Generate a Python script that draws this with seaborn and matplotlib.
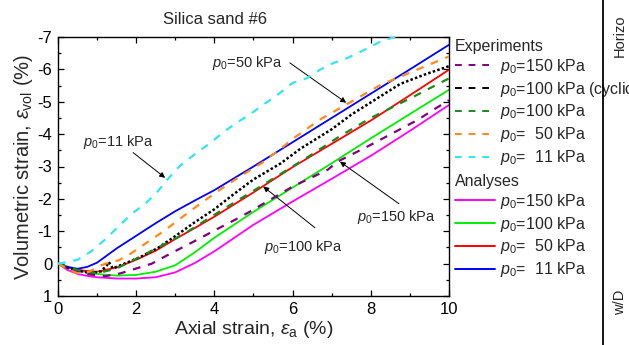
import numpy as np
import pandas as pd
import matplotlib
matplotlib.use("Agg")
import matplotlib.pyplot as plt
import seaborn as sns
from matplotlib.ticker import MultipleLocator
from matplotlib.lines import Line2D

# ---------------- data (axial strain %, volumetric strain %) ----------------
exp150_x = [0, 0.4, 0.8, 1.2, 1.6, 2.0, 2.4, 2.75, 3.1, 3.5, 4.2, 4.6, 4.9, 5.35, 6.0, 6.9, 7.15, 8.0, 9.2, 9.6, 10]
exp150_y = [0, 0.2, 0.33, 0.39, 0.3, 0.15, 0.0, -0.23, -0.45, -0.7, -1.15, -1.4, -1.6, -1.92, -2.38, -2.9, -3.15, -3.67, -4.44, -4.75, -5.05]

expcyc_x = [0, 0.25, 0.5, 0.85, 1.1, 1.25, 1.3, 1.4, 1.7, 2.1, 2.55, 3.0, 3.5, 4.0, 4.5, 5.0, 5.7, 6.2, 7.0, 7.5, 8.0, 8.75, 9.4, 10]
expcyc_y = [0, 0.13, 0.22, 0.29, 0.24, 0.05, -0.05, 0.15, 0.0, -0.2, -0.48, -0.85, -1.28, -1.68, -2.15, -2.6, -3.1, -3.55, -4.15, -4.6, -4.98, -5.55, -5.85, -6.1]

exp100_x = [0, 0.5, 1.0, 1.5, 2.0, 2.4, 3.2, 4.2, 5.0, 5.6, 6.0, 6.4, 7.2, 8.0, 8.7, 9.1, 9.85, 10]
exp100_y = [0, 0.2, 0.3, 0.15, -0.15, -0.4, -0.9, -1.66, -2.25, -2.7, -3.0, -3.3, -3.93, -4.5, -4.92, -5.16, -5.63, -5.72]

exp50_x = [0, 0.3, 0.5, 0.8, 1.1, 1.35, 1.55, 1.85, 2.2, 2.7, 3.4, 4.1, 4.6, 5.2, 5.7, 6.0, 6.7, 7.5, 8.25, 9.0, 9.4, 10]
exp50_y = [0, 0.2, 0.3, 0.25, 0.05, -0.05, -0.1, -0.3, -0.59, -1.0, -1.64, -2.25, -2.65, -3.1, -3.55, -3.85, -4.45, -5.0, -5.52, -5.9, -6.1, -6.4]

exp11_x = [0, 0.25, 0.5, 0.85, 1.2, 1.55, 1.9, 2.25, 2.55, 2.8, 3.1, 3.5, 3.9, 4.2, 4.55, 4.9, 5.25, 5.6, 6.0, 6.35, 6.7, 7.05, 7.4, 7.75, 8.25, 8.6, 9.0]
exp11_y = [0, -0.05, -0.12, -0.38, -0.74, -1.15, -1.55, -1.87, -2.23, -2.6, -3.0, -3.38, -3.73, -4.03, -4.34, -4.6, -4.91, -5.2, -5.58, -5.72, -5.99, -6.2, -6.35, -6.55, -6.86, -7.0, -7.3]

ana_x = [0, 0.25, 0.5, 0.75, 1.0, 1.5, 2.0, 2.5, 3.0, 3.5, 4.0, 5.0, 6.0, 7.0, 8.0, 9.0, 10.0]
ana150_y = [0, 0.2, 0.32, 0.38, 0.42, 0.46, 0.46, 0.42, 0.27, -0.02, -0.38, -1.2, -1.92, -2.62, -3.33, -4.1, -4.9]
ana100_y = [0, 0.12, 0.2, 0.27, 0.32, 0.37, 0.35, 0.25, 0.05, -0.35, -0.8, -1.6, -2.35, -3.1, -3.87, -4.62, -5.37]
ana50_y = [0, 0.12, 0.19, 0.23, 0.25, 0.12, -0.12, -0.4, -0.76, -1.1, -1.45, -2.2, -2.98, -3.7, -4.42, -5.2, -5.99]
ana11_y = [0, 0.1, 0.16, 0.1, -0.03, -0.47, -0.86, -1.25, -1.62, -1.95, -2.27, -3.0, -3.75, -4.5, -5.25, -6.0, -6.76]

exp_labels = ["$p_0$=150 kPa", "$p_0$=100 kPa (cyclic)", "$p_0$=100 kPa", "$p_0$=  50 kPa", "$p_0$=  11 kPa"]
ana_labels = ["$p_0$=150 kPa", "$p_0$=100 kPa", "$p_0$=  50 kPa", "$p_0$=  11 kPa"]
x_ticks = [0, 2, 4, 6, 8, 10]
y_ticks = [-7, -6, -5, -4, -3, -2, -1, 0, 1]

# ---------------- style ----------------
sns.set_theme(style="ticks")
plt.rcParams["font.family"] = ["Liberation Sans", "DejaVu Sans"]
plt.rcParams["mathtext.fontset"] = "custom"
plt.rcParams["mathtext.rm"] = "Liberation Sans"
plt.rcParams["mathtext.it"] = "Liberation Sans:italic"
plt.rcParams["mathtext.sf"] = "Liberation Sans"
plt.rcParams["axes.unicode_minus"] = False

W, H = 629, 345
fig = plt.figure(figsize=(W / 100, H / 100), dpi=100)
ax = fig.add_axes([58 / W, 1 - 296 / H, (449 - 58) / W, (296 - 37) / H])

exp_cols = ["#800080", "#000000", "#1a8a1a", "#ff8a1a", "#33e5f0"]
ana_cols = ["#ff00ff", "#00ee00", "#ff0000", "#0000ff"]

exp_series = [(exp150_x, exp150_y), (expcyc_x, expcyc_y), (exp100_x, exp100_y),
              (exp50_x, exp50_y), (exp11_x, exp11_y)]
ana_series = [ana150_y, ana100_y, ana50_y, ana11_y]

exp_handles = []
for (xs, ys), c, lab in zip(exp_series, exp_cols, exp_labels):
    df = pd.DataFrame({"x": xs, "y": ys})
    if c == "#000000":
        sns.lineplot(data=df, x="x", y="y", ax=ax, color=c, lw=1.8,
                     estimator=None, sort=False, linestyle=(0, (1.0, 0.9)), zorder=3)
    else:
        sns.lineplot(data=df, x="x", y="y", ax=ax, color=c, lw=1.6,
                     estimator=None, sort=False, linestyle=(0, (3.5, 3.5)), zorder=4)
    exp_handles.append(Line2D([], [], color=c, lw=1.4, linestyle=(0, (3.5, 3.5))))

ana_handles = []
for ys, c, lab in zip(ana_series, ana_cols, ana_labels):
    df = pd.DataFrame({"x": ana_x, "y": ys})
    sns.lineplot(data=df, x="x", y="y", ax=ax, color=c, lw=1.3,
                 estimator=None, sort=False, zorder=2)
    ana_handles.append(Line2D([], [], color=c, lw=1.4))

ax.set_xlim(0, 10)
ax.set_ylim(1, -7)
ax.set_xticks(x_ticks)
ax.set_yticks(y_ticks)
ax.set_xticklabels([str(v) for v in x_ticks])
ax.set_yticklabels([str(v) for v in y_ticks])
ax.xaxis.set_minor_locator(MultipleLocator(1))
ax.yaxis.set_minor_locator(MultipleLocator(0.5))
ax.tick_params(which="both", direction="in", top=True, right=True, colors="black",
               labelsize=12, width=0.9)
ax.tick_params(which="major", length=4.5, pad=4)
ax.tick_params(which="minor", length=2.5)
for s in ax.spines.values():
    s.set_visible(True)
    s.set_color("black")
    s.set_linewidth(1.0)
ax.set_facecolor("white")

ax.set_xlabel(r"Axial strain, $\varepsilon_{\rm a}$ (%)", fontsize=14, labelpad=2)
ax.set_ylabel(r"Volumetric strain, $\varepsilon_{\rm vol}$ (%)", fontsize=14.5, labelpad=2)

fig.text(215 / W, 1 - 19 / H, "Silica sand #6", ha="center", va="center", fontsize=12)

# annotations
ann_fs = 10.5
arrow_kw = dict(arrowstyle="-|>", color="black", lw=0.7, mutation_scale=8, shrinkA=0, shrinkB=0)
ax.text(3.94, -6.2, "$p_0$=50 kPa", ha="left", va="center", fontsize=ann_fs)
ax.annotate("", xy=(7.37, -4.97), xytext=(5.93, -6.2), arrowprops=arrow_kw)
ax.text(0.64, -3.77, "$p_0$=11 kPa", ha="left", va="center", fontsize=ann_fs)
ax.annotate("", xy=(2.74, -2.65), xytext=(1.92, -3.43), arrowprops=arrow_kw)
ax.text(5.27, -0.52, "$p_0$=100 kPa", ha="left", va="center", fontsize=ann_fs)
ax.annotate("", xy=(5.25, -2.38), xytext=(6.57, -1.11), arrowprops=arrow_kw)
ax.text(7.65, -1.45, "$p_0$=150 kPa", ha="left", va="center", fontsize=ann_fs)
ax.annotate("", xy=(7.21, -3.15), xytext=(8.72, -1.85), arrowprops=arrow_kw)

# legends
leg_kw = dict(loc="upper left", bbox_transform=fig.transFigure, frameon=False,
              fontsize=11.5, title_fontsize=11.5, alignment="left", handlelength=2.5,
              handletextpad=0.3, borderpad=0, borderaxespad=0, labelspacing=0.24)
leg1 = ax.legend(exp_handles, exp_labels, title="Experiments",
                 bbox_to_anchor=(455 / W, 1 - 39 / H), **leg_kw)
leg1._legend_box.sep = 2
ax.add_artist(leg1)
leg2 = ax.legend(ana_handles, ana_labels, title="Analyses",
                 bbox_to_anchor=(455 / W, 1 - 174 / H), **leg_kw)
leg2._legend_box.sep = 2

# neighbouring panel edge
fig.add_artist(Line2D([603 / W, 603 / W], [0, 1], transform=fig.transFigure,
                      color="black", lw=1.3, zorder=11))
fig.text(620 / W, 1 - 57 / H, "Horizo", rotation=90, ha="center", va="bottom",
         fontsize=10.5, zorder=12)
fig.text(620 / W, 1 - 290 / H, "w/D", rotation=90, ha="center", va="top",
         fontsize=10.5, zorder=12)

fig.savefig("out.png", dpi=100, facecolor="white")
